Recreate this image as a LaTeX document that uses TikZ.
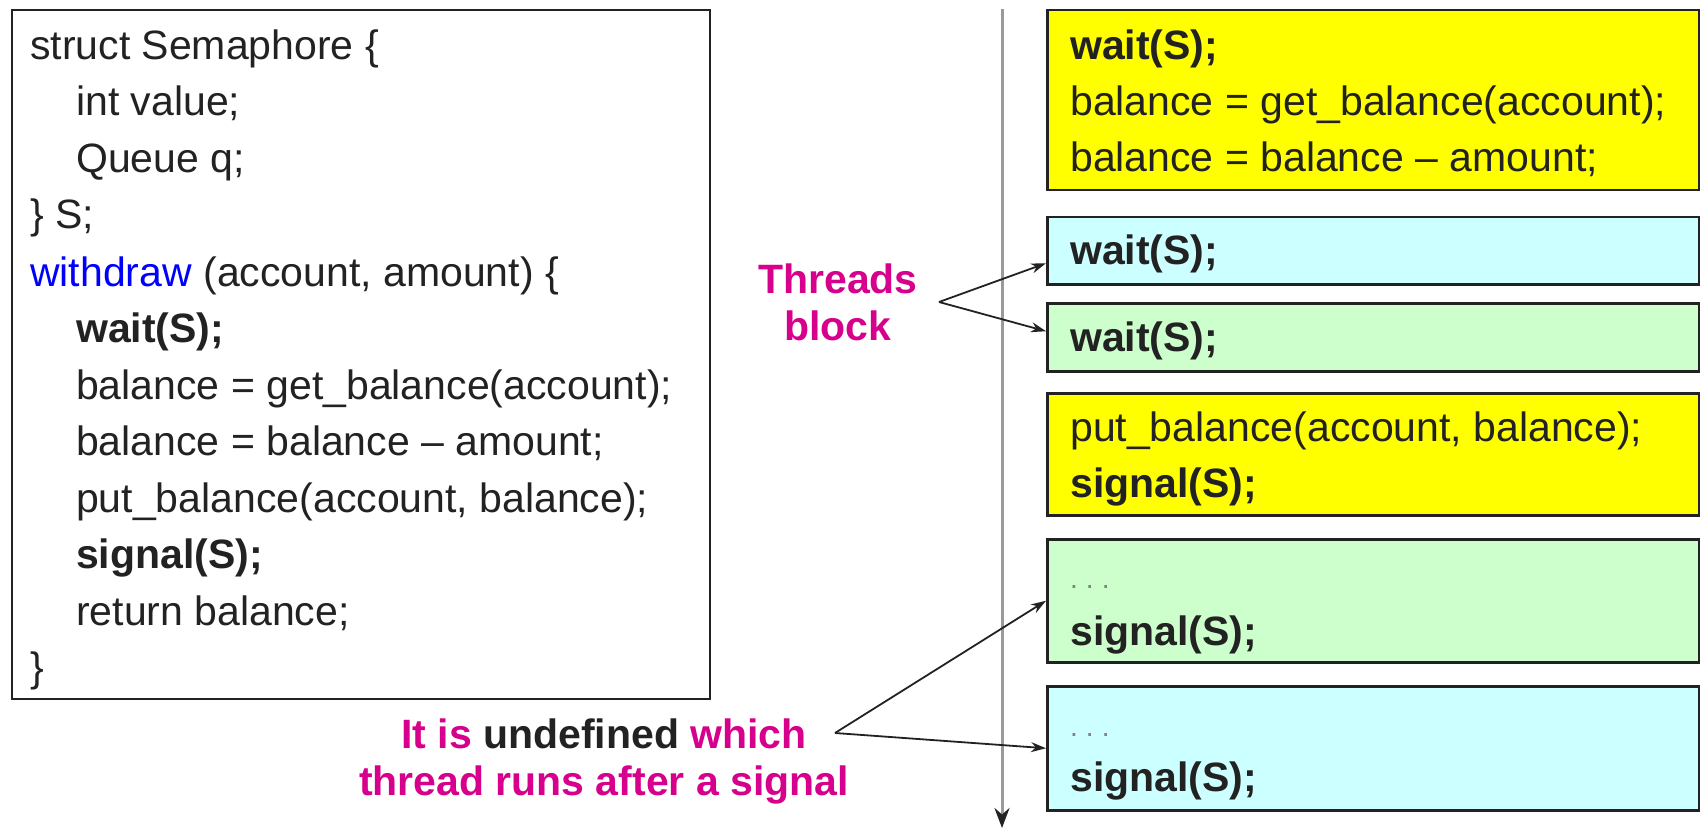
\documentclass[tikz,border=0pt]{standalone}
\usepackage{fontspec}
\setmainfont{Liberation Sans}
\usetikzlibrary{arrows.meta}

\definecolor{ink}{HTML}{222222}
\definecolor{hot}{RGB}{214,0,140}
\definecolor{critical}{HTML}{FFFF00}
\definecolor{cyanthread}{HTML}{CCFFFF}
\definecolor{greenthread}{HTML}{CCFFCC}
\definecolor{axisgray}{HTML}{9A9A9A}

\newcommand{\spreaddots}{.\hspace{8pt}.\hspace{8pt}.}

\begin{document}
\begin{tikzpicture}[x=1pt,y=-1pt,
  code/.style={font=\fontsize{41}{56}\selectfont, text=ink, inner sep=0pt, anchor=base west},
  dots/.style={font=\fontsize{28}{28}\selectfont, text=gray, inner sep=0pt, anchor=base west},
  frame/.style={draw=ink, line width=2pt, anchor=north west, inner sep=0pt},
  threadbox/.style={frame, line width=2.5pt, minimum width=652pt},
  note/.style={font=\fontsize{41}{47}\selectfont\bfseries, text=hot, align=center, inner sep=0pt},
  link/.style={draw=ink, line width=1.8pt, -{Stealth[length=15pt,width=10pt]}},
  timeline/.style={draw=axisgray, line width=3pt, -{Stealth[length=20pt,width=15pt,color=ink]}},
]
\useasboundingbox (0,0) rectangle (1700,829);

% semaphore declaration and withdraw routine
\node[frame, minimum width=698pt, minimum height=689pt] (decl) at (11,9) {};
\node[code] (l1)  at (30,60)  {struct Semaphore \{};
\node[code] (l2)  at (76,116) {int value;};
\node[code] (l3)  at (76,173) {Queue q;};
\node[code] (l4)  at (30,229) {\} S;};
\node[code] (l5)  at (30,286) {\textcolor{blue}{withdraw} (account, amount) \{};
\node[code] (l6)  at (76,342) {\textbf{wait(S);}};
\node[code] (l7)  at (76,399) {balance = get\_balance(account);};
\node[code] (l8)  at (76,455) {balance = balance – amount;};
\node[code] (l9)  at (76,512) {put\_balance(account, balance);};
\node[code] (l10) at (76,568) {\textbf{signal(S);}};
\node[code] (l11) at (76,625) {return balance;};
\node[code] (l12) at (30,681) {\}};

% time axis
\coordinate (ttop) at (1002,9);
\coordinate (tbot) at (1002,828);
\draw[timeline] (ttop) -- (tbot);

% interleaved execution of the threads
\node[threadbox, fill=critical, minimum height=180pt] (run1) at (1046,9) {};
\node[code] (r1a) at (1070,60)  {\textbf{wait(S);}};
\node[code] (r1b) at (1070,116) {balance = get\_balance(account);};
\node[code] (r1c) at (1070,172) {balance = balance – amount;};

\node[threadbox, fill=cyanthread, minimum height=67pt] (waitc) at (1046,216) {};
\node[code] (r2) at (1070,264) {\textbf{wait(S);}};

\node[threadbox, fill=greenthread, minimum height=68pt] (waitg) at (1046,302) {};
\node[code] (r3) at (1070,351) {\textbf{wait(S);}};

\node[threadbox, fill=critical, minimum height=122pt] (run2) at (1046,392) {};
\node[code] (r4a) at (1070,441) {put\_balance(account, balance);};
\node[code] (r4b) at (1070,497) {\textbf{signal(S);}};

\node[threadbox, fill=greenthread, minimum height=123pt] (sigg) at (1046,538) {};
\node[dots] (r5a) at (1070,588) {\spreaddots};
\node[code] (r5b) at (1070,645) {\textbf{signal(S);}};

\node[threadbox, fill=cyanthread, minimum height=124pt] (sigc) at (1046,685) {};
\node[dots] (r6a) at (1070,736) {\spreaddots};
\node[code] (r6b) at (1070,791) {\textbf{signal(S);}};

% annotations
\node[note] (blocknote) at (838,302) {Threads\\block};
\coordinate (fork1) at (939,302);
\draw[link] (fork1) -- ([yshift=-12.5pt]waitc.west);
\draw[link] (fork1) -- ([yshift=6pt]waitg.west);

\node[note, align=center] (undef) at (604,761)
  {It is \textcolor{ink}{undefined} which\\thread runs after a signal};
\coordinate (fork2) at (835,733);
\draw[link] (fork2) -- (sigg.west);
\draw[link] (fork2) -- (sigc.west);
\end{tikzpicture}
\end{document}
